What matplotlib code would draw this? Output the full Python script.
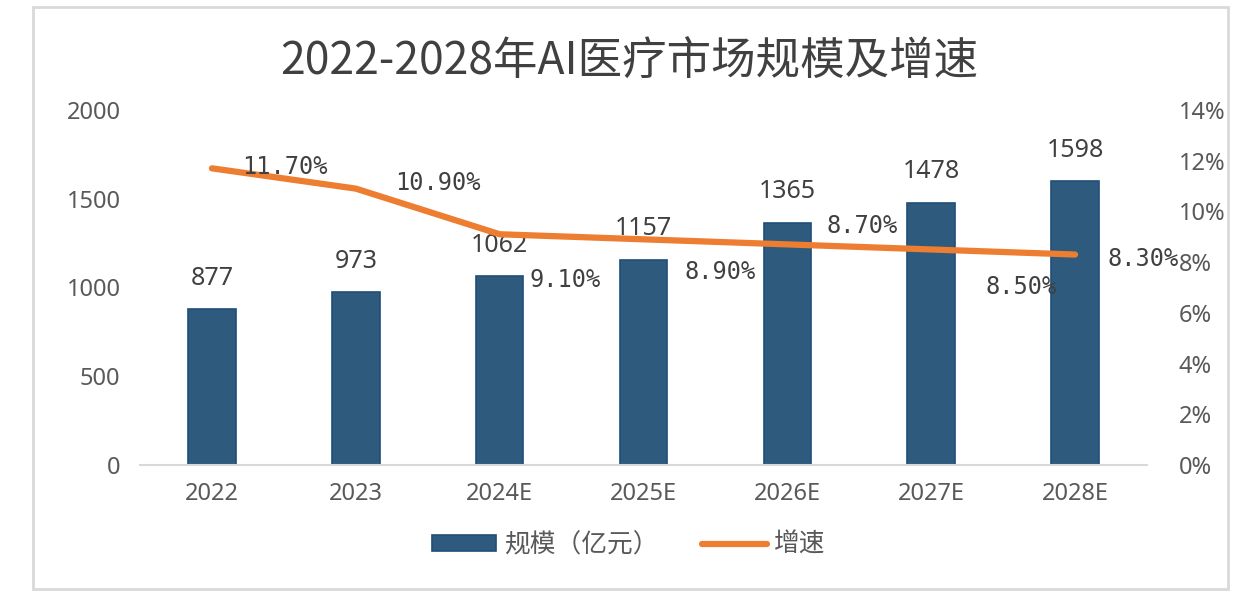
import numpy as np
import matplotlib
matplotlib.use('Agg')
import matplotlib.pyplot as plt
from matplotlib.patches import Rectangle
from matplotlib.ticker import FuncFormatter

plt.rcParams['font.family'] = ['Noto Sans CJK SC', 'DejaVu Sans']

# 数据
years = ['2022', '2023', '2024E', '2025E', '2026E', '2027E', '2028E']
scale = [877, 973, 1062, 1157, 1365, 1478, 1598]          # 规模（亿元）
growth = [11.70, 10.90, 9.10, 8.90, 8.70, 8.50, 8.30]      # 增速 %
growth_labels = ['11.70%', '10.90%', '9.10%', '8.90%', '8.70%', '8.50%', '8.30%']

# 增速标签相对数据点的偏移（像素），仿照原图手动拖动的位置
label_offsets = [(73, 1), (82, 6), (65, -46), (77, -33), (75, 18), (90, -38), (68, -4)]

bar_color = '#2E5A7E'
bar_edge = '#1F4E79'
line_color = '#ED7D31'
text_color = '#595959'
label_color = '#404040'

fig = plt.figure(figsize=(12.58, 5.98), dpi=100)
ax = fig.add_axes([140 / 1258, 1 - 465 / 598, (1147 - 140) / 1258, 355 / 598])
ax2 = ax.twinx()

x = np.arange(len(years))
bars = ax.bar(x, scale, width=0.33, color=bar_color, edgecolor=bar_edge, linewidth=1.2,
              label='规模（亿元）', zorder=2)
ax.set_xlim(-0.5, len(years) - 0.5)
ax.set_ylim(0, 2000)
ax.set_yticks([0, 500, 1000, 1500, 2000])
ax.set_xticks(x)
ax.set_xticklabels(years)

for xi, v in zip(x, scale):
    ax.annotate(str(v), (xi, v), xytext=(0, 31), textcoords='offset pixels',
                ha='center', va='center', fontsize=18, color=label_color,
                family=['Noto Sans', 'DejaVu Sans'])

line, = ax2.plot(x, growth, color=line_color, linewidth=4.5, solid_capstyle='round',
                 label='增速', zorder=3)
ax2.set_ylim(0, 14)
ax2.set_yticks(np.arange(0, 15, 2))
ax2.yaxis.set_major_formatter(FuncFormatter(lambda v, p: f'{v:.0f}%'))

for xi, v, lab, off in zip(x, growth, growth_labels, label_offsets):
    ax2.annotate(lab, (xi, v), xytext=off, textcoords='offset pixels',
                 ha='center', va='center', fontsize=17, color=label_color,
                 family=['DejaVu Sans Mono'])

for a in (ax, ax2):
    for s in ('top', 'left', 'right'):
        a.spines[s].set_visible(False)
    a.spines['bottom'].set_color('#D9D9D9')
    a.spines['bottom'].set_linewidth(1.5)
    a.tick_params(length=0, labelsize=17, labelcolor=text_color)

ax.tick_params(axis='y', pad=14)
ax.tick_params(axis='x', pad=12)
ax2.tick_params(axis='y', pad=23)
ax2.spines['bottom'].set_visible(False)
for t in ax.get_xticklabels() + ax.get_yticklabels() + ax2.get_yticklabels():
    t.set_family(['Noto Sans', 'DejaVu Sans'])

fig.text(0.5, 1 - 62 / 598, '2022-2028年AI医疗市场规模及增速', ha='center', va='center',
         fontsize=32, color='#404040')

fig.legend(handles=[bars, line], labels=['规模（亿元）', '增速'], loc='center',
           bbox_to_anchor=(0.5, 1 - 545 / 598), ncol=2, frameon=False,
           fontsize=18.5, labelcolor=text_color, handlelength=2.5, handleheight=0.55,
           handletextpad=0.3, columnspacing=1.7)

fig.patches.append(Rectangle((33 / 1258, 1 - 589 / 598), (1228 - 33) / 1258, (589 - 7) / 598,
                             transform=fig.transFigure, fill=False,
                             edgecolor='#D9D9D9', linewidth=2))

fig.savefig('out.png', dpi=100)
